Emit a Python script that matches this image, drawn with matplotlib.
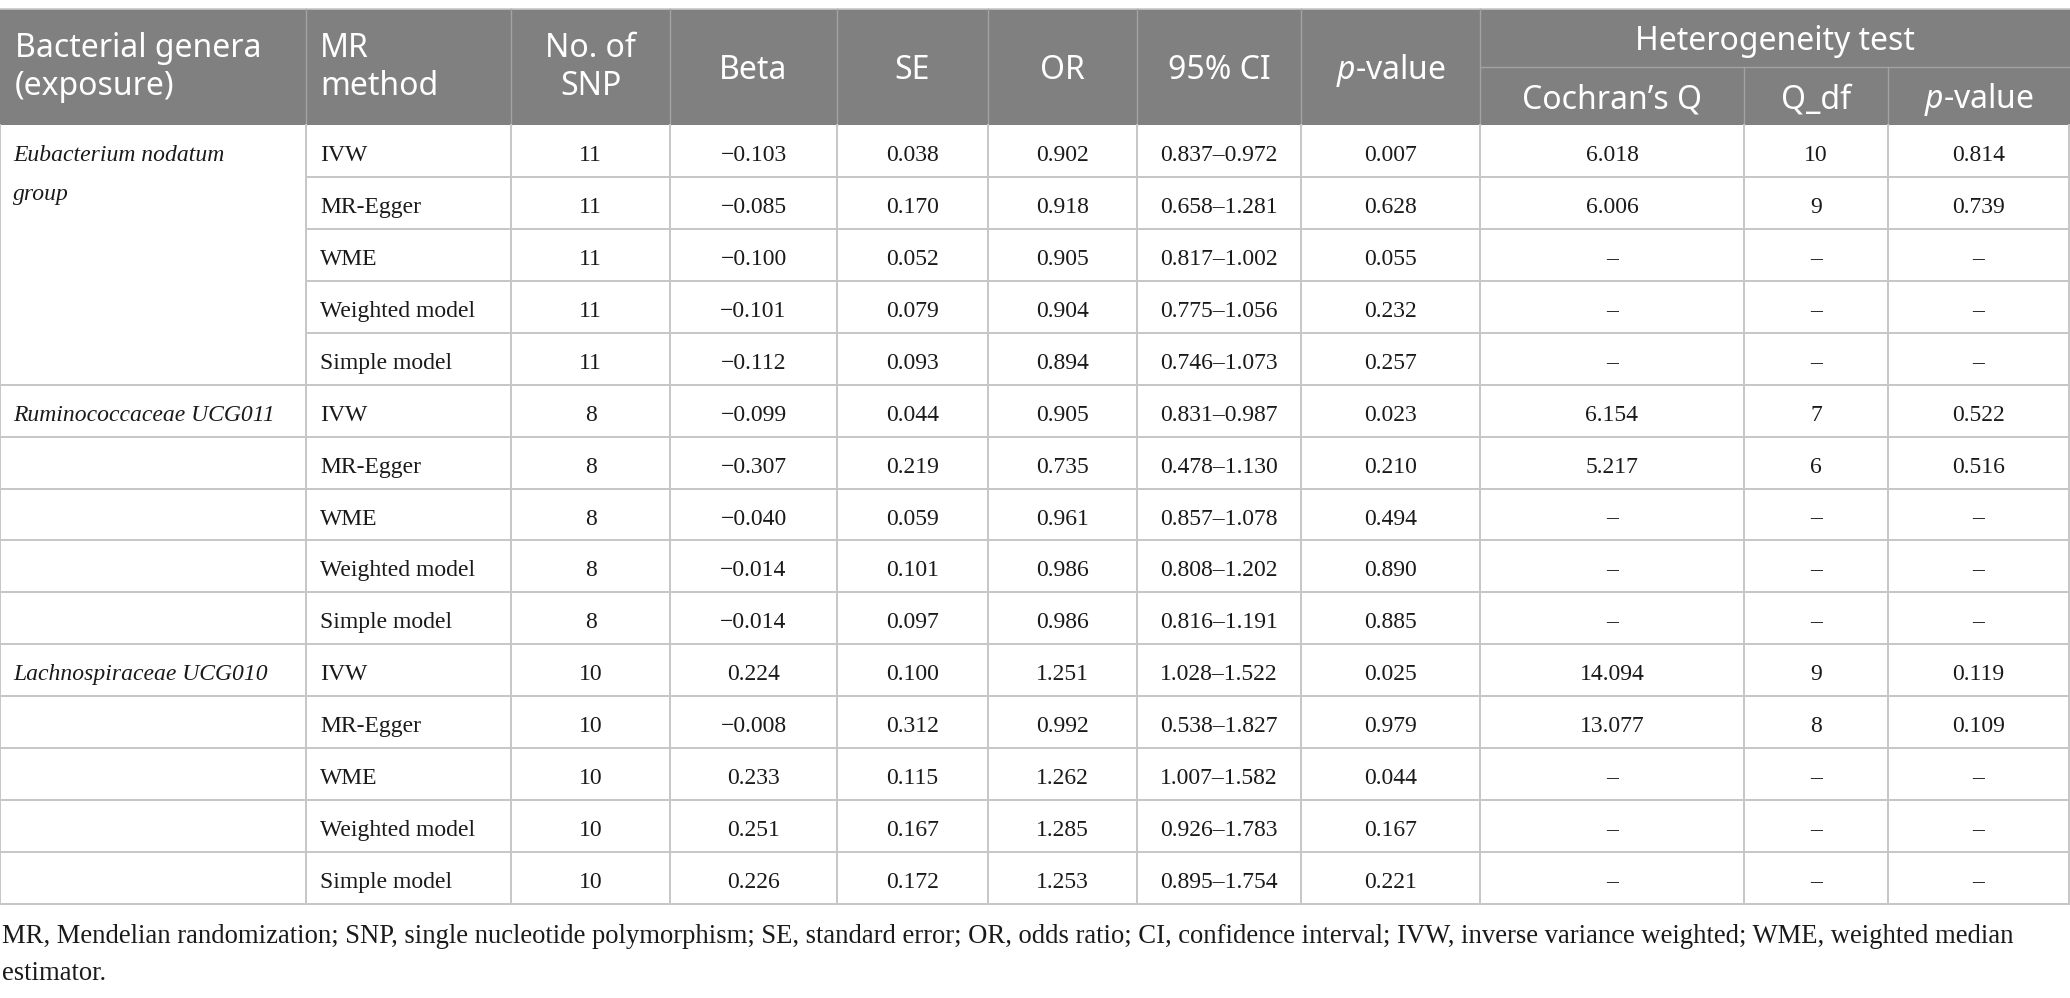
import matplotlib
matplotlib.use('Agg')
import matplotlib.pyplot as plt

plt.rcParams['mathtext.fontset'] = 'custom'
plt.rcParams['mathtext.it'] = 'Noto Sans:italic'
plt.rcParams['mathtext.rm'] = 'Noto Sans'

# ---- table content ----
groups = ['Eubacterium nodatum\ngroup', 'Ruminococcaceae UCG011', 'Lachnospiraceae UCG010']
methods = ['IVW', 'MR-Egger', 'WME', 'Weighted model', 'Simple model']
n_snp = [11, 11, 11, 11, 11, 8, 8, 8, 8, 8, 10, 10, 10, 10, 10]
beta = [-0.103, -0.085, -0.100, -0.101, -0.112,
        -0.099, -0.307, -0.040, -0.014, -0.014,
        0.224, -0.008, 0.233, 0.251, 0.226]
se = [0.038, 0.170, 0.052, 0.079, 0.093,
      0.044, 0.219, 0.059, 0.101, 0.097,
      0.100, 0.312, 0.115, 0.167, 0.172]
odds = [0.902, 0.918, 0.905, 0.904, 0.894,
        0.905, 0.735, 0.961, 0.986, 0.986,
        1.251, 0.992, 1.262, 1.285, 1.253]
ci_low = [0.837, 0.658, 0.817, 0.775, 0.746,
          0.831, 0.478, 0.857, 0.808, 0.816,
          1.028, 0.538, 1.007, 0.926, 0.895]
ci_high = [0.972, 1.281, 1.002, 1.056, 1.073,
           0.987, 1.130, 1.078, 1.202, 1.191,
           1.522, 1.827, 1.582, 1.783, 1.754]
pval = [0.007, 0.628, 0.055, 0.232, 0.257,
        0.023, 0.210, 0.494, 0.890, 0.885,
        0.025, 0.979, 0.044, 0.167, 0.221]
# heterogeneity test only for IVW and MR-Egger (None -> dash)
cochran_q = [6.018, 6.006, None, None, None,
             6.154, 5.217, None, None, None,
             14.094, 13.077, None, None, None]
q_df = [10, 9, None, None, None,
        7, 6, None, None, None,
        9, 8, None, None, None]
het_p = [0.814, 0.739, None, None, None,
         0.522, 0.516, None, None, None,
         0.119, 0.109, None, None, None]

footnote = ('MR, Mendelian randomization; SNP, single nucleotide polymorphism; SE, standard error; '
            'OR, odds ratio; CI, confidence interval; IVW, inverse variance weighted; WME, weighted median\n'
            'estimator.')


def fmt(v, nd=3):
    if v is None:
        return '\u2013'
    if isinstance(v, int):
        return str(v)
    return '{:.{}f}'.format(v, nd).replace('-', '\u2212')


# ---- layout (pixels) ----
W, H = 2070, 998
col_x = [0, 306, 511, 670, 837, 988, 1137, 1301, 1480, 1744, 1888, 2069]
top, sub, head_bot = 9, 67, 125
row_h = 51.93
nrows = len(n_snp)

HEAD_BG = '#808080'
HEAD_LINE = '#a3a3a3'
GRID = '#c6c6c6'
SANS = 'Noto Sans'
SERIF = 'Liberation Serif'
hsize = 23
bsize = 17
fsize = 19.2

fig = plt.figure(figsize=(W / 100, H / 100), dpi=100)
ax = fig.add_axes([0, 0, 1, 1])
ax.set_xlim(0, W)
ax.set_ylim(H, 0)
ax.axis('off')

# header background
ax.fill_between([0, W], top, head_bot, color=HEAD_BG, lw=0)
ax.plot([0, W], [top, top], color='#c8c8c8', lw=1.2)
for x in col_x[1:-1]:
    y0 = sub if x in (col_x[9], col_x[10]) else top
    ax.plot([x, x], [y0, head_bot], color=HEAD_LINE, lw=1.0)
ax.plot([col_x[8], W], [sub, sub], color=HEAD_LINE, lw=1.0)


def centre(i):
    return (col_x[i] + col_x[i + 1]) / 2


hk = dict(color='white', family=SANS, fontsize=hsize, va='baseline')
ax.text(15, 57, 'Bacterial genera', ha='left', **hk)
ax.text(15, 95, '(exposure)', ha='left', **hk)
ax.text(col_x[1] + 14, 57, 'MR', ha='left', **hk)
ax.text(col_x[1] + 14, 95, 'method', ha='left', **hk)
ax.text(centre(2), 57, 'No. of', ha='center', **hk)
ax.text(centre(2), 95, 'SNP', ha='center', **hk)
for i, lab in zip(range(3, 8), ['Beta', 'SE', 'OR', '95% CI', '$p$-value']):
    ax.text(centre(i), 79, lab, ha='center', **hk)
ax.text((col_x[8] + W) / 2, 50, 'Heterogeneity test', ha='center', **hk)
for i, lab in zip(range(8, 11), ['Cochran\u2019s Q', 'Q_df', '$p$-value']):
    ax.text(centre(i), 108, lab, ha='center', **hk)

# body grid (first group label cell is merged over its five rows)
ys = [head_bot + k * row_h for k in range(nrows + 1)]
for k in range(1, nrows):
    x0 = col_x[1] if k < 5 else 0
    ax.plot([x0, W], [ys[k], ys[k]], color=GRID, lw=1.4)
ax.plot([0, W], [ys[-1], ys[-1]], color=GRID, lw=1.4)
for x in col_x:
    ax.plot([x, x], [head_bot, ys[-1]], color=GRID, lw=1.4)

bk = dict(color='#1a1a1a', family=SERIF, fontsize=bsize, va='baseline')
base = 36
for g, name in enumerate(groups):
    for j, ln in enumerate(name.split('\n')):
        ax.text(13, ys[g * 5] + base + j * 39, ln, ha='left', style='italic', **bk)

for r in range(nrows):
    yb = ys[r] + base
    ax.text(col_x[1] + 14, yb, methods[r % 5], ha='left', **bk)
    cells = [fmt(n_snp[r]), fmt(beta[r]), fmt(se[r]), fmt(odds[r]),
             fmt(ci_low[r]) + '\u2013' + fmt(ci_high[r]), fmt(pval[r]),
             fmt(cochran_q[r]), fmt(q_df[r]), fmt(het_p[r])]
    for i, txt in enumerate(cells):
        ax.text(centre(i + 2), yb, txt, ha='center', **bk)

fl = footnote.split('\n')
ax.text(2, 943, fl[0], ha='left', **{**bk, 'fontsize': fsize})
ax.text(2, 980, fl[1], ha='left', **{**bk, 'fontsize': fsize})

fig.savefig('out.png', dpi=100)
